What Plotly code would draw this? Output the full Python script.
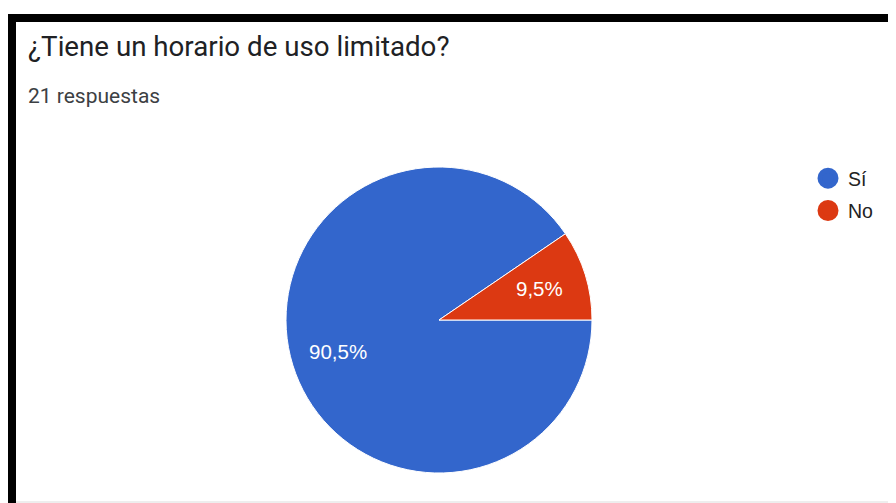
import math
import plotly.graph_objects as go

labels = ["Sí", "No"]
values = [19, 2]
colors = ["#3366cc", "#dc3912"]
title_text = "¿Tiene un horario de uso limitado?"
subtitle_text = "21 respuestas"

# page body has an 8px margin, so the figure is 8px smaller than the window
OFF = 8
W, H = 896 - OFF, 503 - OFF

def px(x):
    return (x - OFF) / W

def py(y):
    return 1 - (y - OFF) / H

# pie geometry (pixels in the window)
CX, CY, R = 439, 320, 153
ROT = 90  # first slice starts at 3 o'clock, clockwise

fig = go.Figure()
fig.add_trace(go.Pie(
    labels=labels, values=values, sort=False, direction="clockwise", rotation=ROT,
    marker=dict(colors=colors, line=dict(color="white", width=1)),
    textinfo="none", showlegend=False, hoverinfo="label+percent",
    domain=dict(x=[px(CX - R), px(CX + R)], y=[py(CY + R), py(CY - R)]),
))
for lab, col in zip(labels, colors):
    fig.add_trace(go.Scatter(
        x=[None], y=[None], mode="markers", name=lab, legendgroup=lab,
        marker=dict(color=col, size=16, symbol="circle", line=dict(color=col, width=5)),
    ))

# percentage labels placed at each slice's mid-angle, computed from the values
total = sum(values)
annotations = []
start = ROT
for v in values:
    frac = v / total
    mid = math.radians(start + frac * 360 / 2)
    start += frac * 360
    lx = CX + 0.69 * R * math.sin(mid)
    ly = CY - 0.69 * R * math.cos(mid)
    annotations.append(dict(
        text=f"{frac * 100:.1f}%".replace(".", ","), xref="paper", yref="paper",
        x=px(lx), y=py(ly), xanchor="center", yanchor="middle", showarrow=False,
        font=dict(size=20.5, color="white", family="Liberation Sans, Arial, sans-serif"),
    ))

shapes = [
    dict(type="rect", xref="paper", yref="paper", x0=px(8), x1=1, y0=py(22), y1=py(14),
         fillcolor="black", line=dict(width=0)),
    dict(type="rect", xref="paper", yref="paper", x0=px(8), x1=px(16), y0=0, y1=py(14),
         fillcolor="black", line=dict(width=0)),
    dict(type="line", xref="paper", yref="paper", x0=px(16), x1=1, y0=py(502), y1=py(502),
         line=dict(color="#dddddd", width=1)),
]

annotations += [
    dict(text=title_text, xref="paper", yref="paper", x=px(26), y=py(46), xanchor="left",
         yanchor="middle", showarrow=False,
         font=dict(size=27.7, color="#202124", family="Roboto, Arial, sans-serif")),
    dict(text=subtitle_text, xref="paper", yref="paper", x=px(26), y=py(96), xanchor="left",
         yanchor="middle", showarrow=False,
         font=dict(size=21, color="#3c4043", family="Roboto, Arial, sans-serif")),
]

fig.update_layout(
    width=W, height=H, margin=dict(l=0, r=0, t=0, b=0),
    paper_bgcolor="white", plot_bgcolor="white",
    shapes=shapes, annotations=annotations,
    xaxis=dict(visible=False), yaxis=dict(visible=False),
    legend=dict(x=px(808), y=py(159), xanchor="left", yanchor="top",
                font=dict(size=19.5, color="#222222", family="Liberation Sans, Arial, sans-serif"),
                tracegroupgap=4, itemsizing="trace", bgcolor="rgba(0,0,0,0)"),
)
fig.write_html("out.html")
